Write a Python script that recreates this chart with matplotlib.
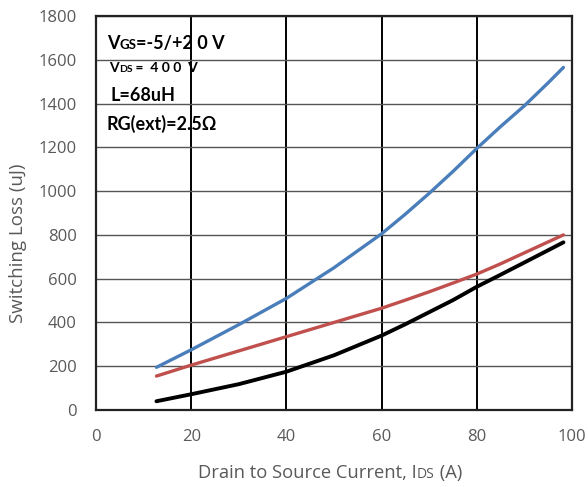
import matplotlib.pyplot as plt
from matplotlib.offsetbox import TextArea, HPacker, AnchoredOffsetbox

# drain current (A) and switching energy (uJ)
current = [12.7, 20, 30, 40, 50, 60, 65, 70, 75, 80, 85, 90, 95, 98.2]
e_total = [195, 275, 390, 510, 650, 805, 895, 990, 1090, 1195, 1295, 1390, 1495, 1565]
e_on = [155, 205, 270, 335, 400, 465, 502, 540, 580, 621, 668, 718, 768, 800]
e_off = [40, 72, 118, 175, 250, 340, 392, 447, 502, 563, 618, 674, 730, 766]

xticks = [0, 20, 40, 60, 80, 100]
yticks = [0, 200, 400, 600, 800, 1000, 1200, 1400, 1600, 1800]

plt.rcParams['font.family'] = ['Open Sans', 'DejaVu Sans']
label_gray = '#595959'
bold_font = ['Lato', 'DejaVu Sans']

fig = plt.figure(figsize=(5.88, 4.87), dpi=100)
ax = fig.add_axes([96/588, 77/487, 476/588, 394/487])

ax.plot(current, e_total, color='#4A7EBB', lw=2.4, solid_capstyle='round')
ax.plot(current, e_on, color='#C0504D', lw=2.4, solid_capstyle='round')
ax.plot(current, e_off, color='black', lw=2.8, solid_capstyle='round')

ax.set_xlim(0, 100)
ax.set_ylim(0, 1800)
ax.set_xticks(xticks)
ax.set_yticks(yticks)
ax.tick_params(length=0, labelsize=12, labelcolor=label_gray, pad=14)
ax.xaxis.grid(True, color='black', lw=1.4)
ax.yaxis.grid(True, color='#555555', lw=1.0)
ax.set_axisbelow(True)
for sp in ax.spines.values():
    sp.set_color('#222222')
    sp.set_linewidth(1.6)


def mixed_text(parts, color='black', weight='normal', family=None):
    boxes = []
    for t, s in parts:
        props = dict(size=s, color=color, weight=weight)
        if family:
            props['family'] = family
        boxes.append(TextArea(t, textprops=props))
    return HPacker(children=boxes, align='baseline', pad=0, sep=0)


def place(box, x, y, loc='lower left'):
    anchored = AnchoredOffsetbox(loc=loc, child=box, pad=0, borderpad=0, frameon=False,
                                 bbox_to_anchor=(x, y), bbox_transform=fig.transFigure)
    fig.add_artist(anchored)


# test conditions
place(mixed_text([('V', 13), ('GS', 9.5), ('=-5/+2 0 V', 13)], weight='bold', family=bold_font),
      107/588, 1 - 52/487)
place(mixed_text([('V', 10), ('DS', 7.5), (' =  4 0 0  V', 10)], weight='bold', family=bold_font),
      109/588, 1 - 74/487)
place(mixed_text([('L=68uH', 13)], weight='bold', family=bold_font), 111/588, 1 - 104/487)
place(mixed_text([('RG(ext)=2.5Ω', 13)], weight='bold', family=bold_font), 107/588, 1 - 133/487)

# axis labels
place(mixed_text([('Drain to Source Current, I', 13.2), ('DS', 10), (' (A)', 13.2)], color=label_gray),
      330/588, 1 - 482/487, loc='lower center')
fig.text(18/588, (487 - 243)/487, 'Switching Loss (uJ)', rotation=90,
         ha='center', va='center', fontsize=13.5, color=label_gray)

fig.savefig('out.png', dpi=100)
